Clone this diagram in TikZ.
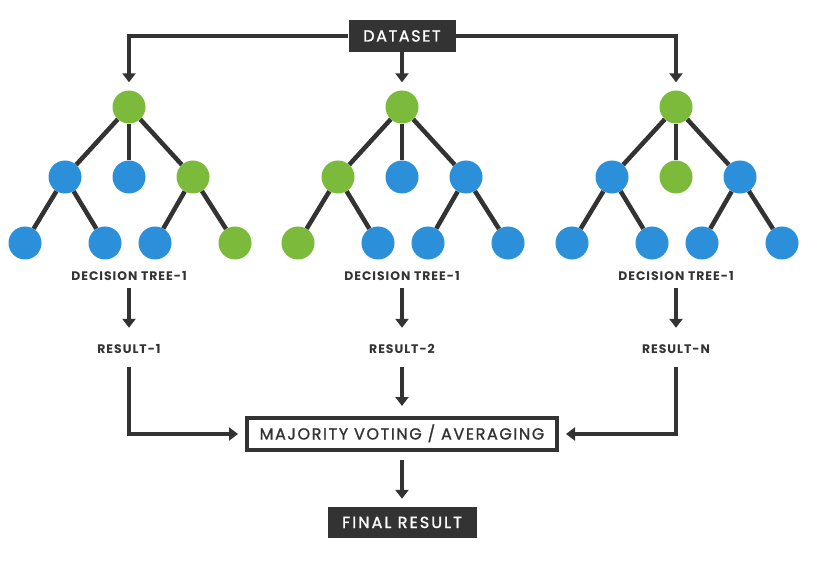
\documentclass[tikz,border=0pt]{standalone}
\usepackage{fontspec}
\setmainfont{Poppins}
\newfontfamily\lblfont[LetterSpace=8]{Poppins}
\newfontfamily\boxfont[LetterSpace=10,FakeBold=1.2]{Poppins}
\newfontfamily\finfont[LetterSpace=13,FakeBold=1.2]{Poppins}
\usetikzlibrary{arrows.meta}
\definecolor{gr}{HTML}{7BBA3A}
\definecolor{bl}{HTML}{2B8FD9}
\definecolor{dk}{HTML}{333333}
\begin{document}
\begin{tikzpicture}[x=1pt,y=-1pt,
  leaf/.style={circle,minimum size=33pt,inner sep=0pt},
  edge/.style={draw=dk,line width=4.5pt},
  arr/.style={draw=dk,line width=4.5pt,-{Triangle[width=13pt,length=9pt]}},
  lbl/.style={font=\lblfont\bfseries\fontsize{12.4}{14}\selectfont,text=dk,inner sep=0pt,text height=8pt,text depth=0pt},
  darkbox/.style={fill=dk,text=white,font=\boxfont\fontsize{16}{18}\selectfont,inner sep=0pt,text height=11pt,text depth=0pt}
]
\useasboundingbox (0,0) rectangle (836,572);
\newcommand\rftree[9]{%
  \node[leaf,fill=gr] (#2r) at (#1,107) {};
  \node[leaf,fill=#3] (#2a) at (#1-64,177) {};
  \node[leaf,fill=#4] (#2b) at (#1,177) {};
  \node[leaf,fill=#5] (#2c) at (#1+64,177) {};
  \node[leaf,fill=#6] (#2d) at (#1-104,243) {};
  \node[leaf,fill=#7] (#2e) at (#1-24,243) {};
  \node[leaf,fill=#8] (#2f) at (#1+26,243) {};
  \node[leaf,fill=#9] (#2g) at (#1+106,243) {};
  \draw[edge] (#2r) -- (#2a);
  \draw[edge] (#2r) -- (#2b);
  \draw[edge] (#2r) -- (#2c);
  \draw[edge] (#2a) -- (#2d);
  \draw[edge] (#2a) -- (#2e);
  \draw[edge] (#2c) -- (#2f);
  \draw[edge] (#2c) -- (#2g);
}
\rftree{129}{L}{bl}{bl}{gr}{bl}{bl}{bl}{gr}
\rftree{402}{M}{gr}{bl}{bl}{gr}{bl}{bl}{bl}
\rftree{676}{R}{bl}{gr}{bl}{bl}{bl}{bl}{bl}

\node[darkbox,minimum width=107pt,minimum height=32pt] (ds) at (402,36) {DATASET};
\draw[arr,shorten >=8pt] (ds.west) -| (Lr.north);
\draw[arr,shorten >=8pt] (ds.east) -| (Rr.north);
\draw[arr,shorten >=8pt] (ds.south) -- (Mr.north);

\node[lbl] (t1) at (129,277) {DECISION TREE-1};
\node[lbl] (t2) at (402,277) {DECISION TREE-1};
\node[lbl] (t3) at (676,277) {DECISION TREE-1};
\node[lbl] (r1) at (129,349) {RESULT-1};
\node[lbl] (r2) at (402,349) {RESULT-2};
\node[lbl] (r3) at (676,349) {RESULT-N};
\draw[arr,shorten <=7pt,shorten >=17pt] (t1.south) -- (t1.south|-r1.north);
\draw[arr,shorten <=7pt,shorten >=17pt] (t2.south) -- (t2.south|-r2.north);
\draw[arr,shorten <=7pt,shorten >=17pt] (t3.south) -- (t3.south|-r3.north);

\node[draw=dk,line width=4pt,fill=white,minimum width=310pt,minimum height=32pt,inner sep=0pt,
  text=dk,font=\boxfont\fontsize{16}{18}\selectfont,text height=11pt,text depth=0pt] (maj) at (402,434) {MAJORITY VOTING / AVERAGING};
\draw[arr,shorten <=14pt,shorten >=7pt] (r1.south) |- (maj.west);
\draw[arr,shorten <=14pt,shorten >=7pt] (r3.south) |- (maj.east);
\draw[arr,shorten <=14pt,shorten >=10pt] (r2.south) -- (maj.north);

\node[darkbox,font=\finfont\fontsize{16}{18}\selectfont,minimum width=149pt,minimum height=31pt] (fin) at (402,522.5) {FINAL RESULT};
\draw[arr,shorten <=8pt,shorten >=8pt] (maj.south) -- (fin.north);
\end{tikzpicture}
\end{document}
